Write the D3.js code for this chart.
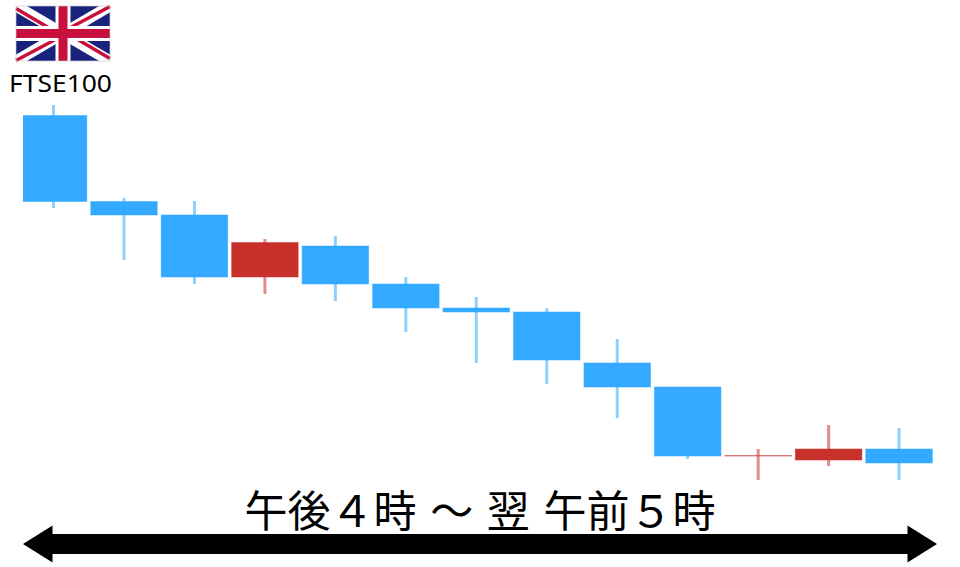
<!DOCTYPE html>
<html><head><meta charset="utf-8">
<style>html,body{margin:0;padding:0;background:#fff}svg{display:block}</style>
<script src="https://cdn.jsdelivr.net/npm/d3@7"></script></head>
<body><svg id="c" width="960" height="567"></svg>
<script>
// Relative index levels (no axis in the source)
const sessions = ["1","2","3","4","5","6","7","8","9","10","11","12","13"];
const opens  = [364.5,278.5,265,203,234,196,172,168,117,93,24,20,31];
const closes = [278.5,265,203,237.5,196,172,168,120,93,24,24.4,31,17];
const highs  = [375,282,279,241,244,203,183,172,141,93,31,55,52];
const lows   = [272,220,196,186,179,148,117,96,62,21,0,14,0];
const indexName = "FTSE100";
const periodLabel = "午後４時 ～ 翌 午前５時";
const upColor = "#c8302b", downColor = "#33a9ff";

const svg = d3.select("#c");
const x = d3.scaleBand().domain(sessions).range([18.3,934.3]).paddingInner(0.056).paddingOuter(0.028);
const y = d3.scaleLinear().domain([0,480]).range([480,0]);
const col = i => closes[i] > opens[i] ? upColor : downColor;
const idx = sessions.map((_,i)=>i);

svg.append("defs").append("clipPath").attr("id","plot").append("rect")
  .attr("x",23).attr("y",0).attr("width",937).attr("height",567);
const plot = svg.append("g").attr("clip-path","url(#plot)");

// wicks
plot.append("g").selectAll("line").data(idx).join("line")
  .attr("x1",i=>x(sessions[i])+x.bandwidth()/2).attr("x2",i=>x(sessions[i])+x.bandwidth()/2)
  .attr("y1",i=>y(highs[i])).attr("y2",i=>y(lows[i]))
  .attr("stroke",col).attr("stroke-width",3).attr("stroke-opacity",0.55);

// bodies
plot.append("g").selectAll("rect").data(idx).join("rect")
  .attr("x",i=>x(sessions[i])).attr("width",x.bandwidth())
  .attr("y",i=>y(Math.max(opens[i],closes[i])))
  .attr("height",i=>Math.abs(opens[i]-closes[i]))
  .attr("fill",col)
  .attr("stroke",col).attr("stroke-width",1).attr("stroke-opacity",0.5);

// flag
const flag = svg.append("g").attr("transform","translate(16,6)");
const W=94,H=55,RED="#c8103f";
flag.append("rect").attr("width",W).attr("height",H).attr("fill","#1a237b");
[[0,0,W,H],[0,H,W,0]].forEach(d=>{
  flag.append("line").attr("x1",d[0]).attr("y1",d[1]).attr("x2",d[2]).attr("y2",d[3]).attr("stroke","#fff").attr("stroke-width",11);
});
[[0,2.5,W/2-2,H/2+1.5],[W/2+2,H/2-1.5,W,H-2.5],[W,0.5,W/2+2,H/2-3],[0,H-0.5,W/2-2,H/2+3]].forEach(d=>{
  flag.append("line").attr("x1",d[0]).attr("y1",d[1]).attr("x2",d[2]).attr("y2",d[3]).attr("stroke",RED).attr("stroke-width",3.5);
});
flag.append("rect").attr("x",W/2-7.5).attr("width",15).attr("height",H).attr("fill","#fff");
flag.append("rect").attr("y",H/2-7.5).attr("width",W).attr("height",15).attr("fill","#fff");
flag.append("rect").attr("x",W/2-4.5).attr("width",9).attr("height",H).attr("fill",RED);
flag.append("rect").attr("y",H/2-4.5).attr("width",W).attr("height",9).attr("fill",RED);
flag.append("rect").attr("width",W).attr("height",H).attr("fill","none").attr("stroke","#ccc").attr("stroke-width",0.7);

svg.append("text").attr("x",9).attr("y",92).attr("font-family","'Noto Sans'").attr("font-size",23.5)
  .attr("textLength",103).attr("lengthAdjust","spacingAndGlyphs").attr("fill","#000").text(indexName);
svg.append("text").attr("x",480).attr("y",527).attr("text-anchor","middle")
  .attr("font-family","'Noto Sans CJK JP'").attr("font-size",43).attr("word-spacing",4).attr("fill","#000").text(periodLabel);

// double arrow
svg.append("path").attr("fill","#000").attr("d",d3.line()([
 [23,544],[52.5,525.5],[52.5,534],[907.5,534],[907.5,525.5],[937,544],[907.5,562.5],[907.5,554],[52.5,554],[52.5,562.5]
])+"Z");
</script></body></html>
